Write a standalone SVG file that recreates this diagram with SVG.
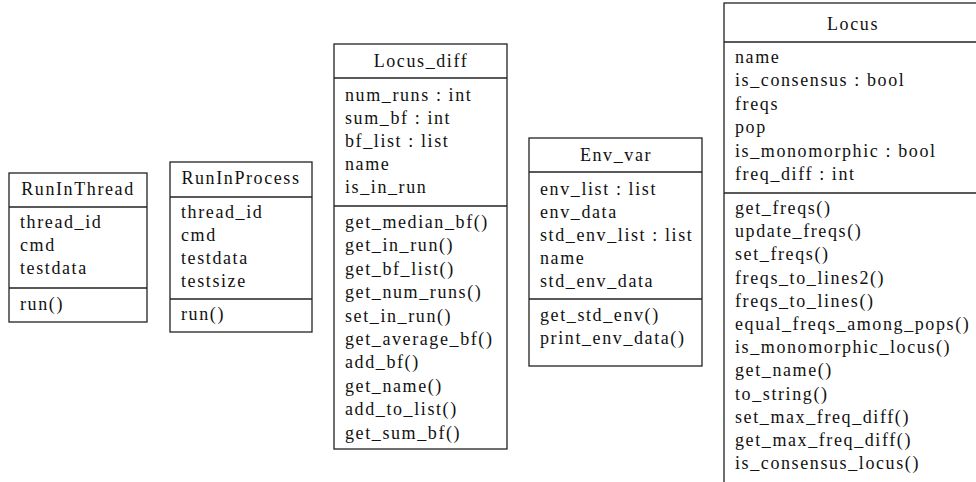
<svg xmlns="http://www.w3.org/2000/svg" width="976" height="482" viewBox="0 0 976 482">
<style>
.box{fill:#fff;stroke:#222;stroke-width:1.3}
.ln{stroke:#222;stroke-width:1.3}
text{font-family:"Liberation Serif","Times New Roman",serif;font-size:18px;letter-spacing:1.6px;fill:#111}
.t{text-anchor:middle}
</style>
<rect width="976" height="482" fill="#fff"/>
<g id="RunInThread">
<rect class="box" x="9" y="173" width="138" height="149"/>
<line class="ln" x1="9" y1="207" x2="147" y2="207"/>
<line class="ln" x1="9" y1="288" x2="147" y2="288"/>
<text class="t" x="78" y="195">RunInThread</text>
<text x="20" y="228">thread_id</text>
<text x="20" y="251">cmd</text>
<text x="20" y="274">testdata</text>
<text x="20" y="310">run()</text>
</g>
<g id="RunInProcess">
<rect class="box" x="170" y="162" width="142" height="170"/>
<line class="ln" x1="170" y1="197" x2="312" y2="197"/>
<line class="ln" x1="170" y1="299" x2="312" y2="299"/>
<text class="t" x="241" y="184">RunInProcess</text>
<text x="181" y="218">thread_id</text>
<text x="181" y="241">cmd</text>
<text x="181" y="264">testdata</text>
<text x="181" y="287">testsize</text>
<text x="181" y="320">run()</text>
</g>
<g id="Locus_diff">
<rect class="box" x="334" y="44" width="173" height="405"/>
<line class="ln" x1="334" y1="78" x2="507" y2="78"/>
<line class="ln" x1="334" y1="206" x2="507" y2="206"/>
<text class="t" x="421" y="67">Locus_diff</text>
<text x="345" y="101">num_runs : int</text>
<text x="345" y="124">sum_bf : int</text>
<text x="345" y="147">bf_list : list</text>
<text x="345" y="170">name</text>
<text x="345" y="193">is_in_run</text>
<text x="345" y="228">get_median_bf()</text>
<text x="345" y="251.4">get_in_run()</text>
<text x="345" y="274.8">get_bf_list()</text>
<text x="345" y="298.2">get_num_runs()</text>
<text x="345" y="321.6">set_in_run()</text>
<text x="345" y="345">get_average_bf()</text>
<text x="345" y="368.4">add_bf()</text>
<text x="345" y="391.8">get_name()</text>
<text x="345" y="415.2">add_to_list()</text>
<text x="345" y="438.6">get_sum_bf()</text>
</g>
<g id="Env_var">
<rect class="box" x="529" y="138" width="173" height="228"/>
<line class="ln" x1="529" y1="172" x2="702" y2="172"/>
<line class="ln" x1="529" y1="299" x2="702" y2="299"/>
<text class="t" x="616" y="161">Env_var</text>
<text x="540" y="195">env_list : list</text>
<text x="540" y="218">env_data</text>
<text x="540" y="241">std_env_list : list</text>
<text x="540" y="264">name</text>
<text x="540" y="287">std_env_data</text>
<text x="540" y="321">get_std_env()</text>
<text x="540" y="344">print_env_data()</text>
</g>
<g id="Locus">
<rect class="box" x="724" y="3" width="258" height="490"/>
<line class="ln" x1="724" y1="42" x2="982" y2="42"/>
<line class="ln" x1="724" y1="193" x2="982" y2="193"/>
<text class="t" x="853" y="30">Locus</text>
<text x="735" y="63">name</text>
<text x="735" y="86.4">is_consensus : bool</text>
<text x="735" y="109.8">freqs</text>
<text x="735" y="133.2">pop</text>
<text x="735" y="156.6">is_monomorphic : bool</text>
<text x="735" y="180">freq_diff : int</text>
<text x="735" y="214">get_freqs()</text>
<text x="735" y="237.2">update_freqs()</text>
<text x="735" y="260.4">set_freqs()</text>
<text x="735" y="283.6">freqs_to_lines2()</text>
<text x="735" y="306.8">freqs_to_lines()</text>
<text x="735" y="330">equal_freqs_among_pops()</text>
<text x="735" y="353.2">is_monomorphic_locus()</text>
<text x="735" y="376.4">get_name()</text>
<text x="735" y="399.6">to_string()</text>
<text x="735" y="422.8">set_max_freq_diff()</text>
<text x="735" y="446">get_max_freq_diff()</text>
<text x="735" y="469.2">is_consensus_locus()</text>
</g>
<g id="connectors"></g>
</svg>
